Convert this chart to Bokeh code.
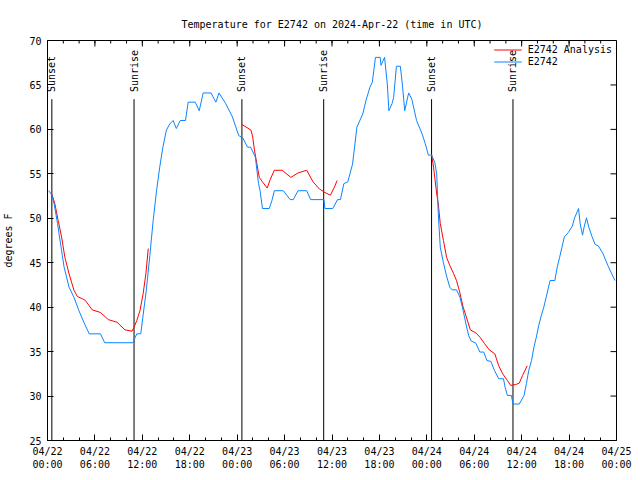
import math
from bokeh.plotting import figure
from bokeh.models import Range1d, FixedTicker, Legend, LegendItem, ColumnDataSource
from bokeh.core.properties import value
from bokeh.embed import file_html
from bokeh.resources import INLINE

NaN = float("nan")

# hours since 2024-04-22 00:00 UTC
obs_hours = [0.15, 0.56, 0.85, 1.27, 1.69, 2.1, 2.73, 3.35, 3.98, 4.6, 5.28, 6.7, 7.24, 10.8, 11.1, 11.3, 11.8,
             12.1, 12.5, 12.95, 13.37, 13.8, 14.2, 14.6, 15.04, 15.46, 15.9, 16.3, 16.8, 17.46, 17.8, 18.7, 19.2,
             19.7, 20.7, 21.3, 21.7, 22.55, 23.4, 24.2, 24.7, 25.3, 25.7, 26.3, 26.7, 26.9, 27.2, 28.06, 28.4,
             28.7, 29.85, 30.7, 31.1, 31.7, 32.8, 33.3, 34.98, 35.1, 36.1, 36.7, 37.07, 37.5, 38.0, 38.6, 39.15,
             39.9, 40.3, 40.8, 41.1, 41.5, 42.1, 42.2, 42.65, 43.0, 43.2, 43.6, 43.8, 44.15, 44.65, 44.9, 45.2,
             45.7, 46.1, 46.7, 47.4, 47.8, 48.2, 48.6, 49.0, 49.25, 49.45, 49.7, 50.1, 50.5, 50.9, 51.2, 51.75,
             52.2, 52.6, 53.0, 53.3, 53.6, 54.2, 54.7, 55.2, 55.6, 56.1, 56.55, 57.1, 57.7, 57.9, 58.2, 58.7,
             58.9, 59.7, 60.3, 60.6, 60.9, 61.25, 61.55, 61.85, 62.2, 62.5, 62.8, 63.1, 63.4, 63.6, 64.2, 64.5,
             64.8, 65.1, 65.4, 65.9, 66.4, 66.7, 67.2, 67.4, 67.7, 67.9, 68.2, 68.5, 68.9, 69.3, 69.7, 70.3,
             70.9, 71.4, 71.8]
obs_temps = [53.1, 52.6, 51.6, 49.4, 46.9, 44.5, 42.25, 41.1, 39.6, 38.3, 37.0, 37.0, 36.0, 36.0, 36.6, 37.0, 37.0,
             39.1, 41.9, 45.8, 49.75, 53.1, 55.75, 58.0, 59.9, 60.6, 61.0, 60.1, 61.0, 61.0, 63.06, 63.06, 62.1,
             64.1, 64.1, 63.06, 64.1, 62.9, 61.4, 59.3, 59.06, 58.0, 58.0, 56.9, 53.9, 53.1, 51.1, 51.1, 52.0,
             53.1, 53.1, 52.1, 52.1, 53.1, 53.1, 52.1, 52.1, 51.1, 51.1, 52.1, 52.1, 53.9, 54.1, 56.1, 60.25,
             61.75, 63.25, 64.75, 65.3, 68.1, 68.1, 67.2, 68.1, 65.1, 62.1, 62.9, 63.6, 67.1, 67.1, 65.1, 62.1,
             64.1, 63.4, 61.0, 59.5, 58.4, 57.1, 57.1, 56.3, 55.0, 50.5, 46.75, 45.0, 43.5, 42.25, 41.95, 41.95,
             41.1, 39.6, 37.9, 36.8, 36.2, 35.95, 34.95, 34.95, 34.0, 33.9, 32.9, 31.95, 31.95, 31.0, 30.07, 30.07,
             29.1, 29.1, 30.07, 31.4, 32.9, 34.0, 35.5, 36.6, 38.1, 39.1, 40.0, 41.1, 42.25, 43.0, 43.0, 44.5,
             45.6, 46.75, 47.9, 48.4, 49.1, 50.05, 51.1, 49.4, 48.1, 49.0, 50.05, 49.0, 47.95, 47.05, 46.9, 46.0,
             44.7, 43.75, 43.0]

ana_hours = [0.56, 0.94, 1.35, 1.78, 2.2, 2.73, 3.35, 3.78, 4.4, 4.8, 5.65, 6.7, 7.7, 8.8, 9.8, 10.7, 10.95,
             11.3, 11.7, 12.1, 12.45, 12.75, NaN,
             24.6, 25.25, 25.76, 25.97, 26.2, 26.5, 26.8, 27.2, 27.8, 28.2, 28.7, 29.7, 30.8, 31.7, 32.8, 33.6,
             34.4, 35.1, 35.8, 36.3, 36.65, NaN,
             48.6, 48.85, 49.0, 49.25, 49.45, 49.7, 50.1, 50.5, 50.9, 51.4, 51.75, 52.1, 52.6, 53.0, 53.5, 54.2,
             54.75, 55.3, 55.9, 56.6, 57.1, 57.6, 58.2, 58.6, 59.25, 59.7, 60.1, 60.7]
ana_temps = [52.7, 51.6, 49.75, 47.9, 45.6, 43.75, 41.9, 41.2, 40.95, 40.75, 39.7, 39.4, 38.6, 38.3, 37.45, 37.3,
             37.75, 38.5, 39.6, 41.5, 43.75, 46.6, NaN,
             60.55, 60.2, 59.9, 59.1, 57.6, 56.1, 54.6, 54.1, 53.4, 54.4, 55.4, 55.4, 54.6, 55.1, 55.4, 54.1,
             53.3, 52.9, 52.6, 53.5, 54.25, NaN,
             57.2, 55.75, 54.6, 52.75, 51.6, 49.4, 47.5, 45.6, 44.7, 43.75, 43.0, 41.9, 40.0, 38.9, 37.45, 37.1,
             36.6, 35.9, 35.2, 34.75, 33.4, 32.5, 31.75, 31.2, 31.3, 31.45, 32.3, 33.4]

sun_hours = [0.55, 10.95, 24.6, 34.95, 48.6, 58.9]
sun_labels = ["Sunset", "Sunrise", "Sunset", "Sunrise", "Sunset", "Sunrise"]

x_tick_hours = [0, 6, 12, 18, 24, 30, 36, 42, 48, 54, 60, 66, 72]
x_tick_labels = ["04/22\n00:00", "04/22\n06:00", "04/22\n12:00", "04/22\n18:00",
                 "04/23\n00:00", "04/23\n06:00", "04/23\n12:00", "04/23\n18:00",
                 "04/24\n00:00", "04/24\n06:00", "04/24\n12:00", "04/24\n18:00",
                 "04/25\n00:00"]
x_minor_hours = list(range(0, 73, 2))
y_ticks = [25, 30, 35, 40, 45, 50, 55, 60, 65, 70]

FONT = "DejaVu Sans Mono"
FS = "10px"
X0, X1, Y0, Y1 = 0, 72, 25, 70
FRAME_W, FRAME_H = 570, 400

p = figure(width=632, height=472, output_backend="svg", toolbar_location=None,
           x_range=Range1d(X0, X1), y_range=Range1d(Y0, Y1),
           min_border_left=46, min_border_right=16, min_border_top=40, min_border_bottom=32,
           title="Temperature for E2742 on 2024-Apr-22 (time in UTC)")
p.title.text_font = FONT
p.title.text_font_size = FS
p.title.text_font_style = "normal"
p.title.text_color = "black"
p.title.align = "center"
p.title.standoff = 22
p.grid.visible = False
p.outline_line_color = "black"
p.background_fill_color = "white"
p.border_fill_color = "white"

xt = FixedTicker(ticks=x_tick_hours, minor_ticks=x_minor_hours)
yt = FixedTicker(ticks=y_ticks)

xa = p.xaxis[0]
xa.ticker = xt
xa.major_label_overrides = {h: lab for h, lab in zip(x_tick_hours, x_tick_labels)}
ya = p.yaxis[0]
ya.ticker = yt
ya.axis_label = "degrees F"

for ax in (xa, ya):
    ax.major_label_text_font = FONT
    ax.major_label_text_font_size = FS
    ax.major_label_text_color = "black"
    ax.axis_label_text_font = FONT
    ax.axis_label_text_font_size = FS
    ax.axis_label_text_font_style = "normal"
    ax.axis_label_text_color = "black"
    ax.major_tick_in = 6
    ax.major_tick_out = 0
    ax.minor_tick_in = 3
    ax.minor_tick_out = 0
    ax.axis_line_color = "black"
    ax.major_tick_line_color = "black"
    ax.minor_tick_line_color = "black"
ya.minor_tick_line_color = None
ya.major_label_standoff = 6
ya.axis_label_standoff = 12
xa.major_label_standoff = 5

# mirrored ticks on the top and right edges (tick lengths in pixels converted to data units)
dx_px = (X1 - X0) / FRAME_W
dy_px = (Y1 - Y0) / FRAME_H
top_x = x_tick_hours + x_minor_hours
top_len = [6 * dy_px] * len(x_tick_hours) + [3 * dy_px] * len(x_minor_hours)
p.segment(x0=top_x, y0=[Y1 - l for l in top_len], x1=top_x, y1=[Y1] * len(top_x), line_color="black", line_width=1)
p.segment(x0=[X1 - 6 * dx_px] * len(y_ticks), y0=y_ticks, x1=[X1] * len(y_ticks), y1=y_ticks,
          line_color="black", line_width=1)

# sunrise / sunset markers
sun_src = ColumnDataSource(dict(x=sun_hours, y0=[Y0] * len(sun_hours), y1=[63.4] * len(sun_hours),
                                ty=[64.2] * len(sun_hours), label=sun_labels))
p.segment(x0="x", y0="y0", x1="x", y1="y1", source=sun_src, line_color="black", line_width=1)
p.text(x="x", y="ty", text="label", source=sun_src, angle=math.pi / 2, text_align="left",
       text_baseline="middle", text_font=value(FONT), text_font_size=value(FS), text_color="black")

r_ana = p.line(ana_hours, ana_temps, line_color="#ff0000", line_width=1)
r_obs = p.line(obs_hours, obs_temps, line_color="#0a84ff", line_width=1)

legend = Legend(items=[LegendItem(label="E2742 Analysis", renderers=[r_ana]),
                       LegendItem(label="E2742", renderers=[r_obs])],
                location="top_right", border_line_color=None, background_fill_alpha=0,
                label_text_font=FONT, label_text_font_size=FS, label_text_color="black",
                glyph_width=28, glyph_height=11,
                label_height=11, spacing=1, padding=2, margin=4, label_standoff=6)
p.add_layout(legend)

open("out.html", "w").write(file_html(p, INLINE))
